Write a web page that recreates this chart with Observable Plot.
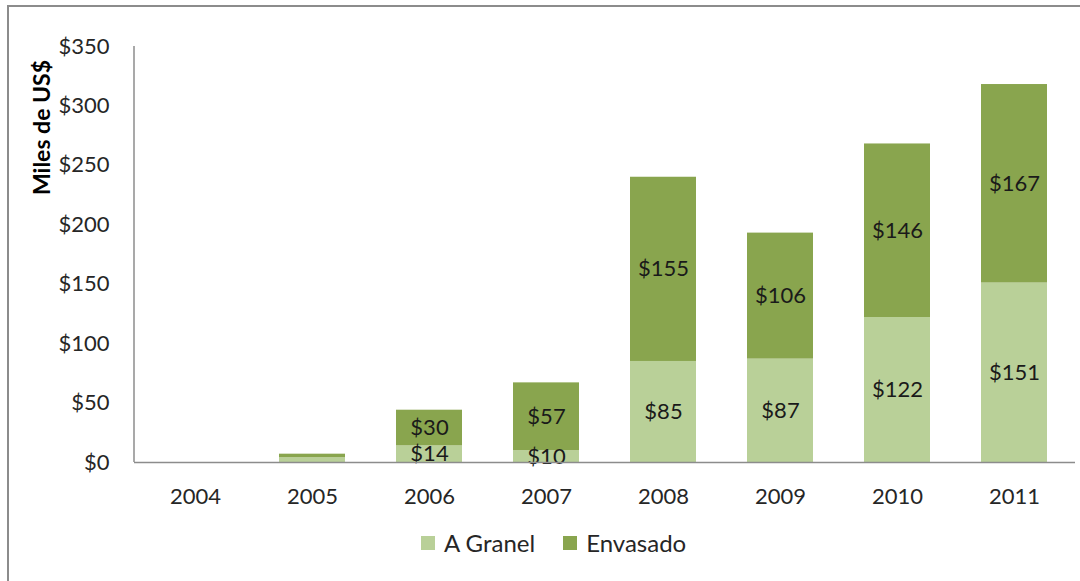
<!DOCTYPE html>
<html>
<head>
<meta charset="utf-8">
<script src="https://cdn.jsdelivr.net/npm/d3@7"></script>
<script src="https://cdn.jsdelivr.net/npm/@observablehq/plot@0.6"></script>
<style>
  html, body { margin: 0; padding: 0; background: #fff; }
  #wrap { position: relative; width: 1080px; height: 581px; overflow: hidden; font-family: Lato, "Open Sans", sans-serif; }
  #frame { position: absolute; left: 7px; top: 5px; width: 1100px; height: 600px; border: 2px solid #8c8c8c; box-sizing: border-box; }
  #chart { position: absolute; left: 0; top: 0; }
  #legend { position: absolute; left: 421px; top: 528px; display: flex; gap: 28px; font-size: 24px; color: #262626; }
  .item { display: flex; align-items: center; gap: 9px; }
  .sw { width: 14px; height: 14px; display: inline-block; }
</style>
</head>
<body>
<div id="wrap">
  <div id="frame"></div>
  <div id="chart"></div>
  <div id="legend"></div>
</div>
<script>
const years = ["2004", "2005", "2006", "2007", "2008", "2009", "2010", "2011"];
const granel = [0, 4, 14, 10, 85, 87, 122, 151];
const envasado = [0, 3, 30, 57, 155, 106, 146, 167];
const seriesNames = ["A Granel", "Envasado"];
const seriesColors = ["#b9d098", "#89a54e"];
const yTicks = [0, 50, 100, 150, 200, 250, 300, 350];
const yLabel = "Miles de US$";

const data = [];
years.forEach((y, i) => {
  data.push({year: y, series: seriesNames[0], value: granel[i]});
  data.push({year: y, series: seriesNames[1], value: envasado[i]});
});

const plot = Plot.plot({
  width: 1080,
  height: 520,
  marginLeft: 134,
  marginRight: 5,
  marginTop: 46,
  marginBottom: 58,
  style: {fontFamily: "Lato, 'Open Sans', sans-serif", fontSize: "22px", color: "#262626", background: "transparent"},
  x: {domain: years, paddingInner: 0.44, paddingOuter: 0.22, label: null},
  y: {domain: [0, 350], label: null},
  color: {domain: seriesNames, range: seriesColors},
  marks: [
    Plot.barY(data, Plot.stackY({x: "year", y: "value", fill: "series", z: "series", order: seriesNames})),
    Plot.text(data, Plot.stackY({
      x: "year", y: "value", z: "series", order: seriesNames,
      filter: d => d.value >= 10,
      text: d => "$" + d.value,
      fill: "#1a1a1a", fontSize: 22
    })),
    Plot.axisY({ticks: yTicks, tickFormat: d => "$" + d, tickSize: 0, tickPadding: 25, fontSize: 22, label: null}),
    Plot.axisX({tickSize: 0, tickPadding: 26, fontSize: 22, label: null}),
    Plot.ruleY([0], {stroke: "#8c8c8c", strokeWidth: 1.5}),
    Plot.text([yLabel], {frameAnchor: "top-left", dx: -101, dy: 81, rotate: -90, textAnchor: "middle", fontWeight: "bold", fontSize: 23, fill: "#000"})
  ]
});
document.getElementById("chart").appendChild(plot);

const svg = d3.select(plot);
svg.append("line")
  .attr("x1", 134).attr("x2", 134).attr("y1", 46).attr("y2", 462)
  .attr("stroke", "#8c8c8c").attr("stroke-width", 1.5);

const legend = document.getElementById("legend");
seriesNames.forEach((name, i) => {
  const item = document.createElement("div");
  item.className = "item";
  const sw = document.createElement("span");
  sw.className = "sw";
  sw.style.background = seriesColors[i];
  const t = document.createElement("span");
  t.textContent = name;
  item.appendChild(sw); item.appendChild(t);
  legend.appendChild(item);
});
</script>
</body>
</html>
